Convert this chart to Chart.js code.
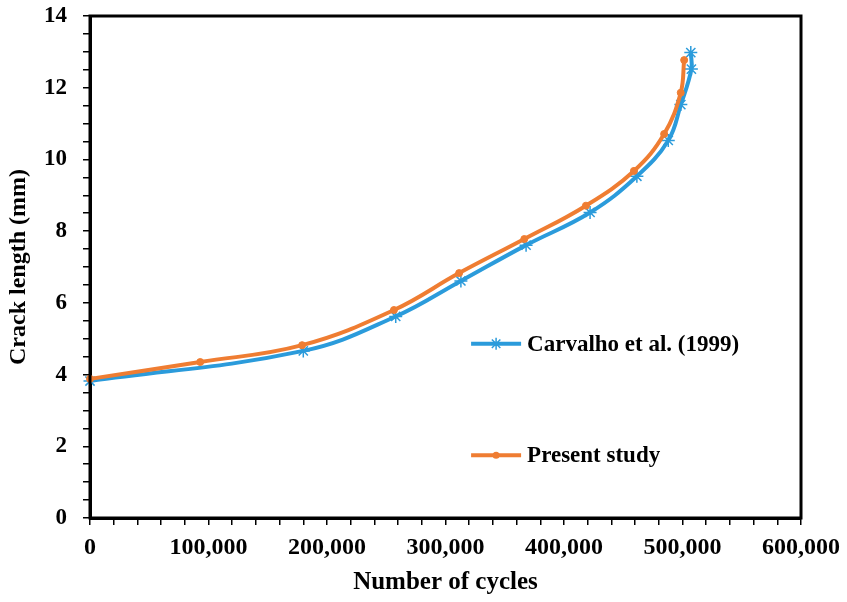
<!DOCTYPE html>
<html>
<head>
<meta charset="utf-8">
<script src="https://cdn.jsdelivr.net/npm/chart.js@4/dist/chart.umd.min.js"></script>
<style>
  html, body { margin: 0; padding: 0; background: #fff; }
  #wrap { width: 847px; height: 602px; }
</style>
</head>
<body>
<div id="wrap"><canvas id="c" width="847" height="602"></canvas></div>
<script>
// ---- Data ----
const seriesNames = ["Carvalho et al. (1999)", "Present study"];
const carvalhoCycles = [0, 180000, 258000, 313000, 368000, 422000, 461500, 488000, 498600, 507500, 507000];
const carvalhoCrack  = [3.82, 4.66, 5.62, 6.61, 7.61, 8.52, 9.53, 10.53, 11.53, 12.52, 12.98];
const presentCycles  = [0, 93000, 179000, 256500, 311500, 366500, 418500, 459000, 484500, 498500, 501400];
const presentCrack   = [3.88, 4.35, 4.82, 5.80, 6.83, 7.78, 8.71, 9.68, 10.71, 11.86, 12.77];
const xMajorTicks = [0, 100000, 200000, 300000, 400000, 500000, 600000];
const yMajorTicks = [0, 2, 4, 6, 8, 10, 12, 14];
const xTitle = "Number of cycles";
const yTitle = "Crack length (mm)";

const BLUE = "#2B9BDB";
const ORANGE = "#EF7D32";
const FONT = "'Liberation Serif', 'Times New Roman', serif";

function pts(xs, ys) { return xs.map((x, i) => ({ x: x, y: ys[i] })); }

function drawAsterisk(ctx, x, y, r, color) {
  ctx.save();
  ctx.strokeStyle = color;
  ctx.lineWidth = 1.5;
  ctx.beginPath();
  for (let k = 0; k < 4; k++) {
    const ang = k * Math.PI / 4;
    ctx.moveTo(x - r * Math.cos(ang), y - r * Math.sin(ang));
    ctx.lineTo(x + r * Math.cos(ang), y + r * Math.sin(ang));
  }
  ctx.stroke();
  ctx.restore();
}
function drawDot(ctx, x, y, r, color) {
  ctx.save();
  ctx.fillStyle = color;
  ctx.beginPath();
  ctx.arc(x, y, r, 0, Math.PI * 2);
  ctx.fill();
  ctx.restore();
}

const boxPlugin = {
  id: 'boxAndLegend',
  afterDraw(chart) {
    const ctx = chart.ctx, a = chart.chartArea;
    ctx.save();
    ctx.strokeStyle = '#000';
    ctx.lineWidth = 3;
    ctx.strokeRect(a.left, a.top, a.right - a.left, a.bottom - a.top);
    // custom in-plot legend
    const w = a.right - a.left, h = a.bottom - a.top;
    const lx = a.left + 0.536 * w;
    const lineLen = 50;
    const rows = [0.653, 0.875];
    chart.data.datasets.forEach((ds, i) => {
      const y = a.top + rows[i] * h;
      ctx.strokeStyle = ds.borderColor;
      ctx.lineWidth = 4;
      ctx.beginPath();
      ctx.moveTo(lx, y);
      ctx.lineTo(lx + lineLen, y);
      ctx.stroke();
      if (i === 0) drawAsterisk(ctx, lx + lineLen / 2, y, 6, ds.borderColor);
      else drawDot(ctx, lx + lineLen / 2, y, 3.5, ds.borderColor);
      ctx.fillStyle = '#000';
      ctx.font = "bold 23px " + FONT;
      ctx.textBaseline = 'middle';
      ctx.textAlign = 'left';
      ctx.fillText(ds.label, lx + lineLen + 6, y + 1);
    });
    ctx.restore();
  }
};
Chart.register(boxPlugin);

new Chart(document.getElementById('c'), {
  type: 'scatter',
  data: {
    datasets: [
      {
        label: seriesNames[0],
        data: pts(carvalhoCycles, carvalhoCrack),
        showLine: true,
        borderColor: BLUE,
        backgroundColor: BLUE,
        borderWidth: 4,
        tension: 0.4,
        pointStyle: 'star',
        pointRadius: 6.5,
        pointBorderWidth: 1.5,
        pointBorderColor: BLUE,
        pointBackgroundColor: BLUE,
        clip: false,
        order: 2
      },
      {
        label: seriesNames[1],
        data: pts(presentCycles, presentCrack),
        showLine: true,
        borderColor: ORANGE,
        backgroundColor: ORANGE,
        borderWidth: 4,
        tension: 0.4,
        pointStyle: 'circle',
        pointRadius: 3.5,
        pointBorderWidth: 1,
        pointBorderColor: ORANGE,
        pointBackgroundColor: ORANGE,
        clip: false,
        order: 1
      }
    ]
  },
  options: {
    responsive: false,
    devicePixelRatio: 1,
    animation: false,
    layout: { padding: { left: 0, right: 46, top: 16, bottom: 0 } },
    plugins: { legend: { display: false }, tooltip: { enabled: false } },
    scales: {
      x: {
        type: 'linear',
        min: 0, max: 600000,
        afterFit(s) { s.height = 84; s.paddingLeft = 0; s.paddingRight = 0; },
        border: { display: true, color: '#000', width: 3 },
        grid: { drawOnChartArea: false, drawTicks: true, tickLength: 7, color: '#000', lineWidth: 1.5 },
        ticks: {
          stepSize: 20000,
          autoSkip: false,
          maxRotation: 0,
          padding: 8,
          color: '#000',
          font: { family: FONT, size: 24, weight: 'bold' },
          callback(v) { return xMajorTicks.includes(v) ? v.toLocaleString('en-US') : ''; }
        },
        title: {
          display: true, text: xTitle, color: '#000',
          font: { family: FONT, size: 25, weight: 'bold' },
          padding: { top: 0, bottom: 4 }
        }
      },
      y: {
        min: 0, max: 14,
        afterFit(s) { s.width = 90; s.paddingTop = 0; s.paddingBottom = 0; },
        border: { display: true, color: '#000', width: 3 },
        grid: { drawOnChartArea: false, drawTicks: true, tickLength: 7, color: '#000', lineWidth: 1.5 },
        ticks: {
          stepSize: 0.5,
          autoSkip: false,
          padding: 16,
          color: '#000',
          font: { family: FONT, size: 23, weight: 'bold' },
          callback(v) { return yMajorTicks.includes(v) ? String(v) : ''; }
        },
        title: {
          display: true, text: yTitle, color: '#000',
          font: { family: FONT, size: 24, weight: 'bold' },
          padding: { top: 4, bottom: 0 }
        }
      }
    }
  }
});
</script>
</body>
</html>
